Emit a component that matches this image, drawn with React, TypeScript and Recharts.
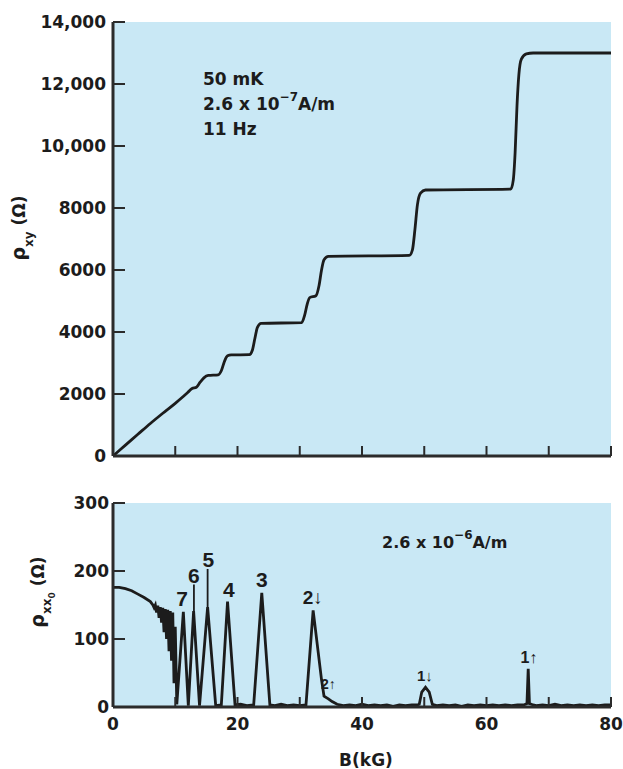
import React from 'react';
import { LineChart, Line, XAxis, YAxis, ReferenceArea, ReferenceDot, ReferenceLine } from 'recharts';

// ---------- data ----------
const bTop = [0, 2, 4, 6, 8, 10, 11, 12, 12.7, 13.4, 14, 14.6, 15.3, 16.9, 17.4, 17.9, 18.4, 19, 21.9, 22.4, 22.8, 23.2, 23.8, 30.3, 30.8, 31.2, 31.6, 32.6, 33.1, 33.5, 33.9, 34.6, 47.6, 48.1, 48.5, 48.9, 49.4, 50.2, 63.9, 64.3, 64.6, 64.9, 65.2, 65.6, 66.4, 67.5, 80];
const rhoXY = [0, 350, 700, 1050, 1380, 1700, 1870, 2050, 2180, 2220, 2380, 2520, 2600, 2620, 2750, 3050, 3230, 3260, 3270, 3420, 3800, 4150, 4280, 4300, 4550, 4900, 5110, 5170, 5500, 6000, 6330, 6440, 6470, 6650, 7300, 8100, 8480, 8580, 8610, 8900, 9800, 11300, 12300, 12800, 12970, 13000, 13000];

const bBottom = [0, 1, 2, 3, 4, 5, 6, 6.4, 6.6, 6.8, 7.0, 7.2, 7.4, 7.6, 7.8, 8.0, 8.2, 8.4, 8.6, 8.8, 9.0, 9.2, 9.4, 9.6, 9.8, 10.0, 10.25, 11.3, 12.1, 12.95, 13.9, 15.2, 16.5, 17.4, 18.4, 19.6, 20.5, 21.5, 22.6, 23.9, 25.2, 26, 27, 28, 29, 30, 31.0, 32.15, 33.5, 33.9, 34.6, 35.2, 36, 37, 38, 39, 40, 41, 42, 43, 44, 45, 46, 47, 48, 48.9, 49.2, 49.6, 50.2, 50.8, 51.3, 52, 53, 54, 55, 56, 57, 58, 59, 60, 61, 62, 63, 64, 65, 66, 66.5, 66.7, 66.9, 67.5, 68, 69, 70, 71, 72, 73, 74, 75, 76, 77, 78, 79, 80];
const rhoXX = [176, 176, 174, 171, 166, 161, 155, 150, 146, 150, 139, 149, 131, 147, 124, 146, 110, 144, 100, 143, 82, 141, 68, 139, 35, 118, 4, 140, 2, 141, 2, 147, 2, 3, 155, 3, 4, 2, 3, 168, 3, 2, 4, 2, 3, 2, 3, 142, 40, 16, 12, 8, 4, 2, 3, 2, 4, 2, 3, 2, 3, 1, 3, 2, 3, 3, 4, 22, 29, 22, 4, 2, 3, 2, 3, 1, 3, 2, 3, 2, 3, 2, 3, 2, 3, 3, 5, 56, 5, 3, 2, 3, 2, 4, 2, 3, 2, 3, 2, 3, 2, 3, 3];

const bTicks = [0, 10, 20, 30, 40, 50, 60, 70, 80];
const bTickLabels = ['0', '', '20', '', '40', '', '60', '', '80'];
const topYTicks = [0, 2000, 4000, 6000, 8000, 10000, 12000, 14000];
const topYTickLabels = ['0', '2000', '4000', '6000', '8000', '10,000', '12,000', '14,000'];
const botYTicks = [0, 100, 200, 300];
const botYTickLabels = ['0', '100', '200', '300'];

const peakLabels = ['7', '6', '5', '4', '3', '2↓', '2↑', '1↓', '1↑'];
const peakLabelB = [11.1, 13.0, 15.3, 18.6, 23.9, 32.1, 34.6, 50.1, 66.8];
const peakLabelRho = [148, 183, 206, 162, 177, 151, 26, 38, 64];
const peakLabelSize = [21, 21, 21, 21, 21, 19, 14, 15, 16];

const leaderB = [13.0, 15.2];
const leaderFrom = [141, 147];
const leaderTo = [180, 203];

// ---------- style ----------
const AXIS = '#2b2b2b';
const INK = '#1c1c1c';
const PLOT_BG = '#c9e8f5';
const FONT = '"DejaVu Sans", "Liberation Sans", sans-serif';

const topData = bTop.map((b, i) => ({ b, r: rhoXY[i] }));
const botData = bBottom.map((b, i) => ({ b, r: rhoXX[i] }));

const labelOf = (ticks: number[], labels: string[], v: number) => {
  const i = ticks.indexOf(v);
  return i >= 0 ? labels[i] : '';
};

const BottomTick = (labels: string[] | null) => (props: any) => {
  const { x, y, payload } = props;
  const lab = labels ? labelOf(bTicks, labels, payload.value) : '';
  return (
    <g>
      <line x1={x} y1={y} x2={x} y2={y - 10} stroke={AXIS} strokeWidth={2} />
      {lab ? (
        <text x={x} y={y + 23} textAnchor="middle" fontFamily={FONT} fontWeight="bold" fontSize={17} fill={INK}>
          {lab}
        </text>
      ) : null}
    </g>
  );
};

const TopTick = (props: any) => {
  const { x, y } = props;
  return <line x1={x} y1={y} x2={x} y2={y + 10} stroke={AXIS} strokeWidth={2} />;
};

const LeftTick = (ticks: number[], labels: string[], gap: number) => (props: any) => {
  const { x, y, payload } = props;
  const lab = labelOf(ticks, labels, payload.value);
  return (
    <g>
      <line x1={x} y1={y} x2={x + 12} y2={y} stroke={AXIS} strokeWidth={2} />
      <text x={x - gap} y={y + 6} textAnchor="end" fontFamily={FONT} fontWeight="bold" fontSize={17} fill={INK}>
        {lab}
      </text>
    </g>
  );
};

const RightTick = (props: any) => {
  const { x, y } = props;
  return <line x1={x} y1={y} x2={x - 12} y2={y} stroke={AXIS} strokeWidth={2} />;
};

const axisLine = { stroke: AXIS, strokeWidth: 3 };

const PeakLabel = (text: string, size: number) => (props: any) => {
  const vb = props.viewBox || {};
  const cx = (vb.x ?? 0) + (vb.width ?? 0) / 2;
  const cy = (vb.y ?? 0) + (vb.height ?? 0) / 2;
  return (
    <text x={cx} y={cy} textAnchor="middle" fontFamily='"Liberation Sans", Arial, sans-serif' fontWeight="bold" fontSize={size} fill={INK}>
      {text}
    </text>
  );
};

export default function App() {
  return (
    <div style={{ position: 'absolute', left: 0, top: 0, width: 623, height: 769, background: '#ffffff' }}>
      <div style={{ position: 'absolute', left: 0, top: 0 }}>
        <LineChart width={623} height={480} data={topData} margin={{ top: 22, right: 12, left: 0, bottom: 0 }}>
          <XAxis xAxisId="b" dataKey="b" type="number" domain={[0, 80]} ticks={bTicks} interval={0} height={24}
            tickLine={false} tickSize={0} tickMargin={0} axisLine={axisLine} tick={BottomTick(null)} allowDataOverflow />
          <XAxis xAxisId="t" orientation="top" dataKey="b" type="number" domain={[0, 80]} ticks={bTicks} interval={0} height={0}
            tickLine={false} tickSize={0} tickMargin={0} axisLine={axisLine} tick={TopTick} allowDataOverflow />
          <YAxis yAxisId="l" type="number" domain={[0, 14000]} ticks={topYTicks} interval={0} width={113}
            tickLine={false} tickSize={0} tickMargin={0} axisLine={axisLine} tick={LeftTick(topYTicks, topYTickLabels, 7)} allowDataOverflow />
          <YAxis yAxisId="r" orientation="right" type="number" domain={[0, 14000]} ticks={topYTicks} interval={0} width={0}
            tickLine={false} tickSize={0} tickMargin={0} axisLine={axisLine} tick={RightTick} allowDataOverflow />
          <ReferenceArea xAxisId="b" yAxisId="l" x1={0} x2={80} y1={0} y2={14000} fill={PLOT_BG} fillOpacity={1} stroke="none" />
          <Line xAxisId="b" yAxisId="l" type="monotone" dataKey="r" stroke={INK} strokeWidth={2.8} dot={false} isAnimationActive={false} />
        </LineChart>
      </div>
      <div style={{ position: 'absolute', left: 0, top: 480 }}>
        <LineChart width={623} height={289} data={botData} margin={{ top: 23, right: 12, left: 0, bottom: 0 }}>
          <XAxis xAxisId="b" dataKey="b" type="number" domain={[0, 80]} ticks={bTicks} interval={0} height={62}
            tickLine={false} tickSize={0} tickMargin={0} axisLine={axisLine} tick={BottomTick(bTickLabels)} allowDataOverflow />
          <XAxis xAxisId="t" orientation="top" dataKey="b" type="number" domain={[0, 80]} ticks={bTicks} interval={0} height={0}
            tickLine={false} tickSize={0} tickMargin={0} axisLine={axisLine} tick={TopTick} allowDataOverflow />
          <YAxis yAxisId="l" type="number" domain={[0, 300]} ticks={botYTicks} interval={0} width={113}
            tickLine={false} tickSize={0} tickMargin={0} axisLine={axisLine} tick={LeftTick(botYTicks, botYTickLabels, 4)} allowDataOverflow />
          <YAxis yAxisId="r" orientation="right" type="number" domain={[0, 300]} ticks={botYTicks} interval={0} width={0}
            tickLine={false} tickSize={0} tickMargin={0} axisLine={axisLine} tick={RightTick} allowDataOverflow />
          <ReferenceArea xAxisId="b" yAxisId="l" x1={0} x2={80} y1={0} y2={300} fill={PLOT_BG} fillOpacity={1} stroke="none" />
          {leaderB.map((b, i) => (
            <ReferenceLine key={'ld' + i} xAxisId="b" yAxisId="l" segment={[{ x: b, y: leaderFrom[i] }, { x: b, y: leaderTo[i] }]}
              stroke={INK} strokeWidth={1.8} />
          ))}
          <Line xAxisId="b" yAxisId="l" type="linear" dataKey="r" stroke={INK} strokeWidth={2.8} dot={false} isAnimationActive={false} />
          {peakLabels.map((t, i) => (
            <ReferenceDot key={'pl' + i} xAxisId="b" yAxisId="l" x={peakLabelB[i]} y={peakLabelRho[i]} r={0}
              fill="none" stroke="none" label={{ content: PeakLabel(t, peakLabelSize[i]) }} />
          ))}
        </LineChart>
      </div>
      <svg width={623} height={769} style={{ position: 'absolute', left: 0, top: 0, pointerEvents: 'none' }}>
        <g fontFamily={FONT} fontWeight="bold" fill={INK}>
          <text x={203} y={85} fontSize={17}>50 mK</text>
          <text x={203} y={110} fontSize={17}>
            2.6 x 10<tspan dy={-9} fontSize={12}>−7</tspan><tspan dy={9} fontSize={17}>A/m</tspan>
          </text>
          <text x={203} y={135} fontSize={17}>11 Hz</text>
          <text x={382} y={548} fontSize={16}>
            2.6 x 10<tspan dy={-9} fontSize={12}>−6</tspan><tspan dy={9} fontSize={16}>A/m</tspan>
          </text>
          <text transform="translate(25,228) rotate(-90)" textAnchor="middle" fontSize={19}>
            ρ<tspan dy={8} fontSize={12}>xy</tspan><tspan dy={-8} fontSize={17}> (Ω)</tspan>
          </text>
          <text transform="translate(44,592) rotate(-90)" textAnchor="middle" fontSize={19}>
            ρ<tspan dy={7} fontSize={12}>xx</tspan><tspan dy={4} fontSize={9}>0</tspan><tspan dy={-11} fontSize={17}> (Ω)</tspan>
          </text>
          <text x={366} y={766} textAnchor="middle" fontSize={17}>B(kG)</text>
        </g>
      </svg>
    </div>
  );
}
